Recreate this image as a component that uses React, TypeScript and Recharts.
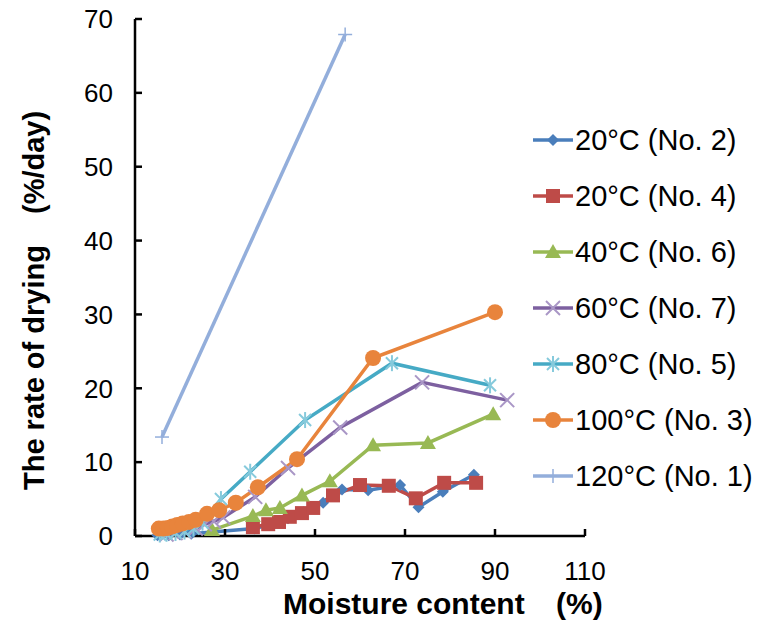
import React from 'react';
import { LineChart, Line, XAxis, YAxis, Label } from 'recharts';

const FONT = '"Liberation Sans", Arial, Helvetica, sans-serif';

const xTicks = [10, 30, 50, 70, 90, 110];
const yTicks = [0, 10, 20, 30, 40, 50, 60, 70];

// [moisture content %, rate of drying %/day]
const s20no2: number[][] = [[15, 0.1], [17.5, 0.1], [20, 0.2], [22.5, 0.3], [36.5, 1.0], [40, 1.5], [44, 2.4], [47.5, 3.2], [51.8, 4.5], [56, 6.3], [61.8, 6.2], [68.9, 6.9], [73, 3.9], [78.4, 6.0], [85.3, 8.3]];
const s20no4: number[][] = [[36.2, 1.2], [39.6, 1.6], [42, 1.9], [44.4, 2.6], [47.1, 3.1], [49.6, 3.8], [54, 5.5], [60, 6.9], [66.4, 6.8], [72.4, 5.1], [78.7, 7.2], [85.8, 7.2]];
const s40no6: number[][] = [[27.1, 0.8], [36.2, 2.7], [39.1, 3.5], [42.2, 3.8], [47.1, 5.5], [53.3, 7.4], [62.9, 12.3], [75.1, 12.6], [89.6, 16.5]];
const s60no7: number[][] = [[17, 0.2], [19, 0.4], [21, 0.6], [23.5, 1.0], [25.5, 1.6], [27.5, 2.0], [29.6, 2.5], [36.7, 5.3], [44, 9.2], [55.6, 14.7], [73.8, 20.8], [92.7, 18.4]];
const s80no5: number[][] = [[15.5, 0.2], [17, 0.3], [19, 0.4], [21, 0.6], [23, 1.0], [25, 1.8], [29.1, 5.0], [35.6, 8.7], [47.8, 15.7], [67.1, 23.4], [88.9, 20.4]];
const s100no3: number[][] = [[15.3, 1.0], [16.3, 1.0], [17.3, 1.1], [18.3, 1.3], [19.4, 1.5], [20.6, 1.7], [22, 1.9], [23.5, 2.2], [26, 3.0], [28.7, 3.5], [32.4, 4.5], [37.3, 6.6], [46, 10.4], [62.9, 24.1], [90, 30.3]];
const s120no1: number[][] = [[16, 13.4], [56.7, 67.9]];

const names = ['20°C (No. 2)', '20°C (No. 4)', '40°C (No. 6)', '60°C (No. 7)', '80°C (No. 5)', '100°C (No. 3)', '120°C (No. 1)'];

type Shape = 'diamond' | 'square' | 'triangle' | 'x' | 'star' | 'circle' | 'plus';

const series: { name: string; data: { x: number; y: number }[]; color: string; accent: string; shape: Shape }[] = [
  { name: names[0], data: s20no2.map(([x, y]) => ({ x, y })), color: '#4A7EBB', accent: '#4A7EBB', shape: 'diamond' },
  { name: names[1], data: s20no4.map(([x, y]) => ({ x, y })), color: '#BE4B48', accent: '#A83F3C', shape: 'square' },
  { name: names[2], data: s40no6.map(([x, y]) => ({ x, y })), color: '#98B954', accent: '#8CAD4C', shape: 'triangle' },
  { name: names[3], data: s60no7.map(([x, y]) => ({ x, y })), color: '#7D60A0', accent: '#A996C6', shape: 'x' },
  { name: names[4], data: s80no5.map(([x, y]) => ({ x, y })), color: '#46AAC5', accent: '#86CADC', shape: 'star' },
  { name: names[5], data: s100no3.map(([x, y]) => ({ x, y })), color: '#E8843C', accent: '#E8843C', shape: 'circle' },
  { name: names[6], data: s120no1.map(([x, y]) => ({ x, y })), color: '#93AEDB', accent: '#93AEDB', shape: 'plus' },
];

function Marker({ shape, cx, cy, color, accent }: { shape: Shape; cx: number; cy: number; color: string; accent: string }) {
  switch (shape) {
    case 'diamond':
      return <polygon points={`${cx},${cy - 6} ${cx + 6},${cy} ${cx},${cy + 6} ${cx - 6},${cy}`} fill={color} />;
    case 'square':
      return <rect x={cx - 7} y={cy - 7} width={14} height={14} fill={color} />;
    case 'triangle':
      return <polygon points={`${cx},${cy - 8} ${cx + 8},${cy + 6} ${cx - 8},${cy + 6}`} fill={color} />;
    case 'x':
      return (
        <g stroke={accent} strokeWidth={2}>
          <line x1={cx - 7} y1={cy - 7} x2={cx + 7} y2={cy + 7} />
          <line x1={cx - 7} y1={cy + 7} x2={cx + 7} y2={cy - 7} />
        </g>
      );
    case 'star':
      return (
        <g stroke={accent} strokeWidth={2}>
          <line x1={cx - 6} y1={cy - 6} x2={cx + 6} y2={cy + 6} />
          <line x1={cx - 6} y1={cy + 6} x2={cx + 6} y2={cy - 6} />
          <line x1={cx} y1={cy - 8} x2={cx} y2={cy + 8} />
        </g>
      );
    case 'circle':
      return <circle cx={cx} cy={cy} r={8} fill={color} />;
    case 'plus':
      return (
        <g stroke={accent} strokeWidth={1.5}>
          <line x1={cx - 7} y1={cy} x2={cx + 7} y2={cy} />
          <line x1={cx} y1={cy - 7} x2={cx} y2={cy + 7} />
        </g>
      );
  }
  return null;
}

const renderXLabel = () => (
  <g fontFamily={FONT} fontWeight="bold" fontSize={30} fill="#000">
    <text x={283} y={614}>Moisture content</text>
    <text x={556} y={614}>(%)</text>
  </g>
);

const renderYLabel = () => (
  <g fontFamily={FONT} fontWeight="bold" fontSize={29} fill="#000">
    <text transform="translate(44,490) rotate(-90)">The rate of drying</text>
    <text transform="translate(44,214) rotate(-90)">(%/day)</text>
  </g>
);

export default function App() {
  return (
    <div style={{ position: 'absolute', left: 0, top: 0, width: 758, height: 633, background: '#fff' }}>
      <LineChart width={758} height={633} margin={{ top: 19, right: 173, left: 0, bottom: 0 }}>
        <XAxis
          dataKey="x"
          type="number"
          domain={[10, 110]}
          ticks={xTicks}
          interval={0}
          height={97}
          axisLine={{ stroke: '#000', strokeWidth: 2.5 }}
          tickLine={{ stroke: '#000', strokeWidth: 2.5 }}
          tickSize={-7}
          tickMargin={33}
          tick={{ fill: '#000', fontSize: 26, fontFamily: FONT }}
        >
          <Label content={renderXLabel} />
        </XAxis>
        <YAxis
          dataKey="y"
          type="number"
          domain={[0, 70]}
          ticks={yTicks}
          interval={0}
          width={135}
          axisLine={{ stroke: '#000', strokeWidth: 2.5 }}
          tickLine={{ stroke: '#000', strokeWidth: 2.5 }}
          tickSize={-7}
          tickMargin={29}
          tick={{ fill: '#000', fontSize: 26, fontFamily: FONT }}
        >
          <Label content={renderYLabel} />
        </YAxis>
        {series.map((s) => (
          <Line
            key={s.name}
            data={s.data}
            dataKey="y"
            name={s.name}
            type="linear"
            stroke={s.color}
            strokeWidth={3.5}
            isAnimationActive={false}
            activeDot={false}
            dot={(p: any) => (
              <Marker key={`${s.name}-${p.index}`} shape={s.shape} cx={p.cx} cy={p.cy} color={s.color} accent={s.accent} />
            )}
          />
        ))}
      </LineChart>
      <div style={{ position: 'absolute', left: 533, top: 112, fontFamily: FONT, fontSize: 29, color: '#000' }}>
        {series.map((s) => (
          <div key={s.name} style={{ height: 56, display: 'flex', alignItems: 'center', whiteSpace: 'nowrap' }}>
            <svg width={42} height={24} style={{ marginRight: 0 }}>
              <line x1={0} y1={12} x2={40} y2={12} stroke={s.color} strokeWidth={3.5} />
              <Marker shape={s.shape} cx={20} cy={12} color={s.color} accent={s.accent} />
            </svg>
            <span>{s.name}</span>
          </div>
        ))}
      </div>
    </div>
  );
}
